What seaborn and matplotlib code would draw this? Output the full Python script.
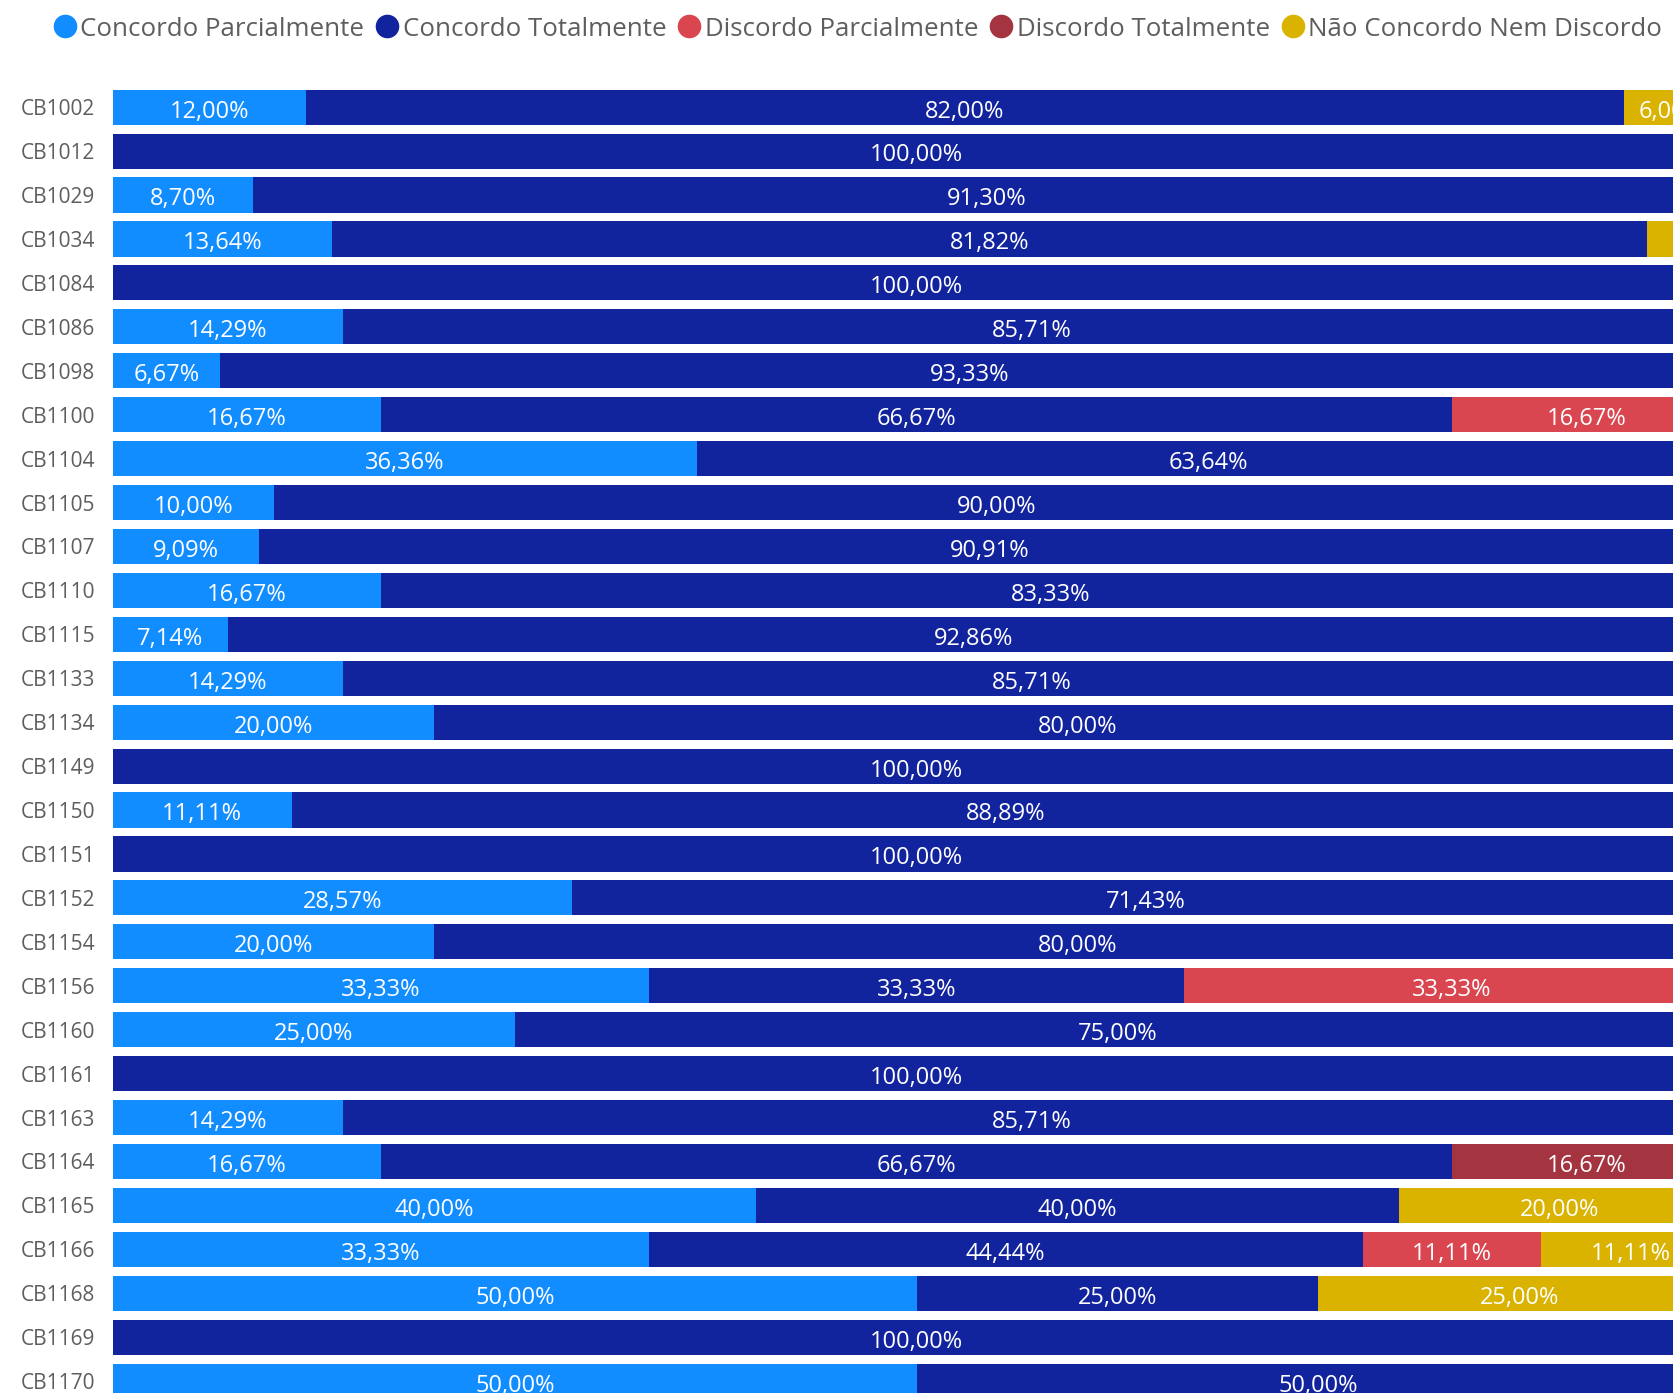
import matplotlib
matplotlib.use("Agg")
import matplotlib.pyplot as plt
from matplotlib.lines import Line2D
import numpy as np
import pandas as pd
import seaborn as sns

# Survey answers per course (percent of respondents)
courses = ["CB1002", "CB1012", "CB1029", "CB1034", "CB1084", "CB1086", "CB1098",
           "CB1100", "CB1104", "CB1105", "CB1107", "CB1110", "CB1115", "CB1133",
           "CB1134", "CB1149", "CB1150", "CB1151", "CB1152", "CB1154", "CB1156",
           "CB1160", "CB1161", "CB1163", "CB1164", "CB1165", "CB1166", "CB1168",
           "CB1169", "CB1170"]

concordo_parcialmente = [12.00, 0, 8.70, 13.64, 0, 14.29, 6.67, 16.67, 36.36, 10.00,
                         9.09, 16.67, 7.14, 14.29, 20.00, 0, 11.11, 0, 28.57, 20.00,
                         33.33, 25.00, 0, 14.29, 16.67, 40.00, 33.33, 50.00, 0, 50.00]
concordo_totalmente = [82.00, 100.00, 91.30, 81.82, 100.00, 85.71, 93.33, 66.67, 63.64, 90.00,
                       90.91, 83.33, 92.86, 85.71, 80.00, 100.00, 88.89, 100.00, 71.43, 80.00,
                       33.33, 75.00, 100.00, 85.71, 66.67, 40.00, 44.44, 25.00, 100.00, 50.00]
discordo_parcialmente = [0, 0, 0, 0, 0, 0, 0, 16.67, 0, 0,
                         0, 0, 0, 0, 0, 0, 0, 0, 0, 0,
                         33.33, 0, 0, 0, 0, 0, 11.11, 0, 0, 0]
discordo_totalmente = [0, 0, 0, 0, 0, 0, 0, 0, 0, 0,
                       0, 0, 0, 0, 0, 0, 0, 0, 0, 0,
                       0, 0, 0, 0, 16.67, 0, 0, 0, 0, 0]
nem_concordo_nem_discordo = [6.00, 0, 0, 4.55, 0, 0, 0, 0, 0, 0,
                             0, 0, 0, 0, 0, 0, 0, 0, 0, 0,
                             0, 0, 0, 0, 0, 20.00, 11.11, 25.00, 0, 0]

answers = ["Concordo Parcialmente", "Concordo Totalmente", "Discordo Parcialmente",
           "Discordo Totalmente", "Não Concordo Nem Discordo"]
colors = ["#118DFF", "#12239E", "#D9464F", "#A4343F", "#D9B300"]

df = pd.DataFrame({
    "curso": courses,
    answers[0]: concordo_parcialmente,
    answers[1]: concordo_totalmente,
    answers[2]: discordo_parcialmente,
    answers[3]: discordo_totalmente,
    answers[4]: nem_concordo_nem_discordo,
})
cum = df[answers].cumsum(axis=1)

sns.set_theme(style="white")
FONT = ["Open Sans", "DejaVu Sans"]
plt.rcParams["font.family"] = FONT

W, H = 1673, 1393
fig = plt.figure(figsize=(W / 100, H / 100), dpi=100)
fig.patch.set_facecolor("white")

# Plot area runs slightly past the right and bottom edges of the canvas
ax_left, ax_width = 113 / W, 1607 / W
ax_top = 1 - 85.2 / H
ax_height = 1317.9 / H
ax = fig.add_axes([ax_left, ax_top - ax_height, ax_width, ax_height])

# Stacked 100% bars: draw cumulative totals from the last answer backwards
for k in range(len(answers) - 1, -1, -1):
    sns.barplot(x=cum[answers[k]], y=df["curso"], color=colors[k], orient="h",
                width=0.8, saturation=1, ax=ax, linewidth=0, edgecolor="none")

# Segment value labels
for i in range(len(df)):
    left = 0.0
    for k, a in enumerate(answers):
        v = df.loc[i, a]
        if v >= 5:
            txt = f"{v:.2f}".replace(".", ",") + "%"
            ax.text(left + v / 2, i + 0.1, txt, ha="center", va="center",
                    color="white", fontsize=17, family=FONT)
        left += v

ax.set_xlim(0, 100)
ax.set_ylim(len(df) - 0.5, -0.5)
ax.set_xlabel("")
ax.set_ylabel("")
ax.set_xticks([])
for s in ax.spines.values():
    s.set_visible(False)
ax.tick_params(axis="y", length=0, pad=13, labelsize=15, labelcolor="#605E5C")

# Legend across the top
handles = [Line2D([], [], linestyle="", marker="o", markersize=17, color=c,
                  markeredgewidth=0) for c in colors]
fig.legend(handles, answers, loc="center left", bbox_to_anchor=(55 / W, 1 - 29 / H),
           ncol=5, frameon=False, handlelength=0.75, handletextpad=0.22,
           columnspacing=0.52, borderaxespad=0, borderpad=0,
           prop={"family": FONT, "size": 18.6}, labelcolor="#605E5C")

fig.savefig("out.png", dpi=100, facecolor="white")
